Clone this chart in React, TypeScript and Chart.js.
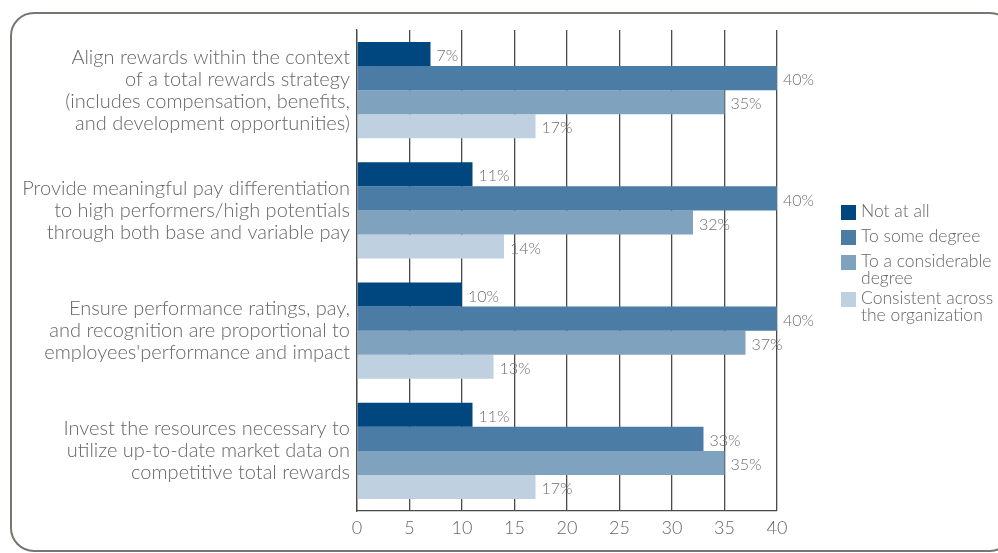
import { useEffect, useRef } from "react";
import { Chart, registerables } from "chart.js";

Chart.register(...registerables);

const categories: string[][] = [
  ["Align rewards within the context", "of a total rewards strategy", "(includes compensation, benefits,", "and development opportunities)"],
  ["Provide meaningful pay differentiation", "to high performers/high potentials", "through both base and variable pay"],
  ["Ensure performance ratings, pay,", "and recognition are proportional to", "employees'performance and impact"],
  ["Invest the resources necessary to", "utilize up-to-date market data on", "competitive total rewards"],
];

const seriesNames: string[][] = [
  ["Not at all"],
  ["To some degree"],
  ["To a considerable", "degree"],
  ["Consistent across", "the organization"],
];

const notAtAll = [7, 11, 10, 11];
const someDegree = [40, 40, 40, 33];
const considerableDegree = [35, 32, 37, 35];
const consistentAcross = [17, 14, 13, 17];

const xMin = 0;
const xMax = 40;
const xStep = 5;

const seriesColors = ["#00467f", "#4a7ca6", "#7fa2bf", "#bfd1e0"];

const FONT = "Lato, 'Noto Sans', sans-serif";
const TEXT = "#666666";

const valueLabels = {
  id: "valueLabels",
  afterDatasetsDraw(chart: any) {
    const ctx = chart.ctx;
    ctx.save();
    ctx.font = `300 16px ${FONT}`;
    ctx.fillStyle = "#707070";
    ctx.textAlign = "left";
    ctx.textBaseline = "middle";
    chart.data.datasets.forEach((ds: any, di: number) => {
      const meta = chart.getDatasetMeta(di);
      meta.data.forEach((bar: any, i: number) => {
        ctx.fillText(`${ds.data[i]}%`, bar.x + 6, bar.y + 2);
      });
    });
    ctx.restore();
  },
};

const sideLegend = {
  id: "sideLegend",
  afterDraw(chart: any) {
    const ctx = chart.ctx;
    const area = chart.chartArea;
    ctx.save();
    ctx.font = `300 17.5px ${FONT}`;
    ctx.textAlign = "left";
    ctx.textBaseline = "middle";
    const boxX = area.right + 64;
    const textX = boxX + 20;
    let y = area.top + 181;
    chart.data.datasets.forEach((ds: any, di: number) => {
      const lines: string[] = seriesNames[di];
      ctx.fillStyle = ds.backgroundColor;
      ctx.fillRect(boxX, y - 6, 15, 15);
      ctx.fillStyle = TEXT;
      lines.forEach((ln, li) => {
        ctx.fillText(ln, textX, y + li * 17.5);
      });
      y += 25 + 12 * (lines.length - 1);
    });
    ctx.restore();
  },
};

export default function App() {
  const ref = useRef<HTMLCanvasElement | null>(null);

  useEffect(() => {
    if (!ref.current) return;
    const data = [notAtAll, someDegree, considerableDegree, consistentAcross];
    const chart = new Chart(ref.current, {
      type: "bar",
      data: {
        labels: categories,
        datasets: data.map((d, i) => ({
          label: seriesNames[i].join(" "),
          data: d,
          backgroundColor: seriesColors[i],
          borderWidth: 0,
          categoryPercentage: 0.8,
          barPercentage: 1.0,
        })),
      },
      options: {
        indexAxis: "y",
        animation: false,
        responsive: false,
        maintainAspectRatio: false,
        layout: { padding: { left: 0, right: 221, top: 30, bottom: 12 } },
        plugins: {
          legend: { display: false },
          tooltip: { enabled: false },
        },
        scales: {
          x: {
            min: xMin,
            max: xMax,
            ticks: {
              stepSize: xStep,
              color: TEXT,
              padding: 6,
              font: { family: FONT, size: 18, weight: "300" },
            },
            grid: { color: "#4a4a4a", lineWidth: 1.3, drawTicks: false },
            border: { display: true, color: "#4a4a4a", width: 1.3 },
            afterFit: (s: any) => {
              s.height = 30;
              s.paddingLeft = 0;
              s.paddingRight = 0;
            },
          },
          y: {
            ticks: {
              color: TEXT,
              padding: 7,
              font: { family: FONT, size: 20, weight: "300", lineHeight: 1.1 },
            },
            grid: { display: false, drawTicks: false },
            border: { display: true, color: "#4a4a4a", width: 1.3 },
            afterFit: (s: any) => {
              s.width = 357;
              s.paddingTop = 0;
              s.paddingBottom = 0;
            },
          },
        },
      },
      plugins: [valueLabels, sideLegend],
    } as any);
    return () => chart.destroy();
  }, []);

  return (
    <div style={{ position: "fixed", left: 0, top: 0, width: 998, height: 553, background: "#fff" }}>
      <div
        style={{
          position: "absolute",
          left: 10,
          top: 12,
          width: 1000,
          height: 536,
          border: "2px solid #79756f",
          borderRadius: 24,
        }}
      />
      <canvas ref={ref} width={998} height={553} style={{ position: "absolute", left: 0, top: 0 }} />
    </div>
  );
}
